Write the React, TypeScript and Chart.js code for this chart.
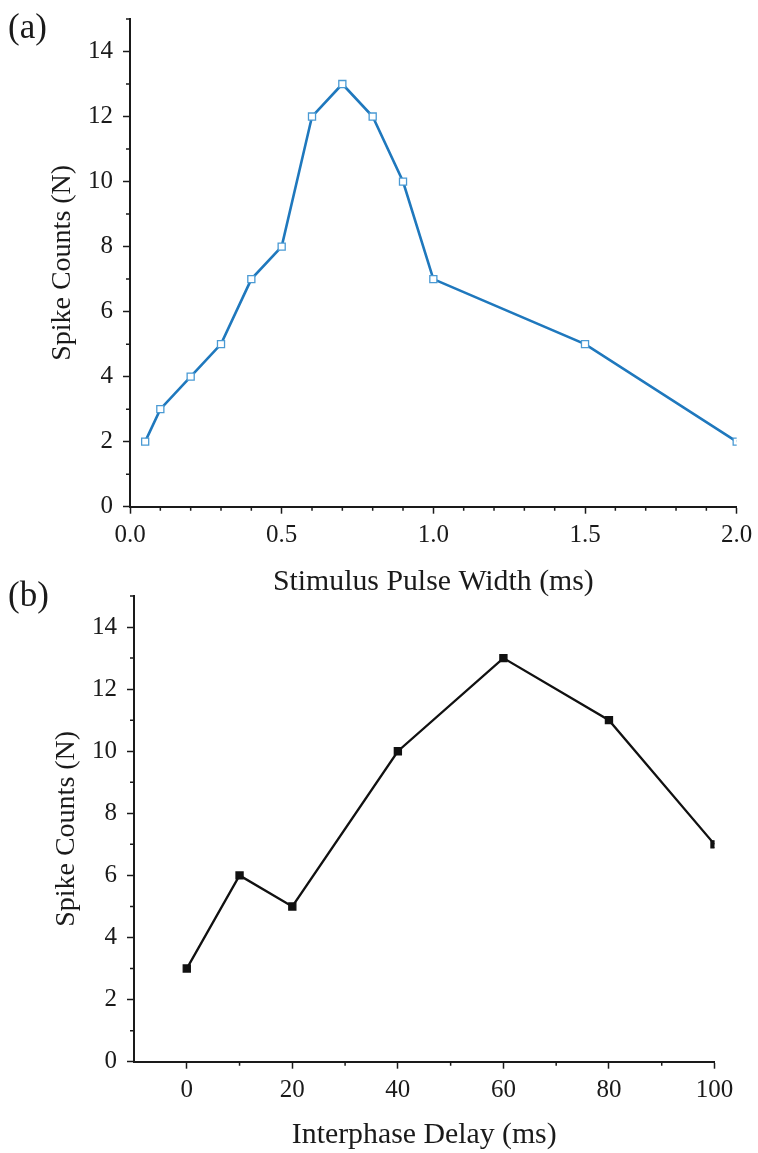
import React, { useEffect, useRef } from "react";
import { Chart, registerables } from "chart.js";

Chart.register(...registerables);

// ---- Data: panel (a) ----
const pulseWidthMs = [0.05, 0.1, 0.2, 0.3, 0.4, 0.5, 0.6, 0.7, 0.8, 0.9, 1.0, 1.5, 2.0];
const spikeCountsA = [2, 3, 4, 5, 7, 8, 12, 13, 12, 10, 7, 5, 2];
const xTicksA = [0, 0.5, 1.0, 1.5, 2.0];
const xMinorA = [0.1, 0.2, 0.3, 0.4, 0.6, 0.7, 0.8, 0.9, 1.1, 1.2, 1.3, 1.4, 1.6, 1.7, 1.8, 1.9];

// ---- Data: panel (b) ----
const interphaseDelayMs = [0, 10, 20, 40, 60, 80, 100];
const spikeCountsB = [3, 6, 5, 10, 13, 11, 7];
const xTicksB = [0, 20, 40, 60, 80, 100];
const xMinorB = [10, 30, 50, 70, 90];

// ---- Shared y ticks ----
const yTicks = [0, 2, 4, 6, 8, 10, 12, 14];
const yMinor = [1, 3, 5, 7, 9, 11, 13, 15];

const FONT = "'Liberation Serif', 'Times New Roman', serif";

const minorTicksPlugin = (xMinor: number[], yMinorVals: number[]) => ({
  id: "minorTicks",
  afterDraw(chart: any) {
    const { ctx, chartArea, scales } = chart;
    ctx.save();
    ctx.strokeStyle = "#1a1a1a";
    ctx.lineWidth = 1.5;
    ctx.beginPath();
    xMinor.forEach((v) => {
      const px = scales.x.getPixelForValue(v);
      ctx.moveTo(px, chartArea.bottom);
      ctx.lineTo(px, chartArea.bottom + 4);
    });
    yMinorVals.forEach((v) => {
      const py = scales.y.getPixelForValue(v);
      ctx.moveTo(chartArea.left, py);
      ctx.lineTo(chartArea.left - 4, py);
    });
    ctx.stroke();
    ctx.restore();
  },
});

type PanelCfg = {
  xs: number[];
  ys: number[];
  xMin: number;
  xMax: number;
  xTicks: number[];
  xMinor: number[];
  xFmt: (v: number) => string;
  xTitle: string;
  lineColor: string;
  pointBorder: string;
  pointFill: string;
  pointRadius: number;
  lineWidth: number;
  height: number;
  padding: { left: number; right: number; top: number; bottom: number };
  yWidth: number;
  xHeight: number;
};

function Panel({ cfg, top }: { cfg: PanelCfg; top: number }) {
  const ref = useRef<HTMLCanvasElement | null>(null);
  useEffect(() => {
    if (!ref.current) return;
    const chart = new Chart(ref.current, {
      type: "line",
      data: {
        datasets: [
          {
            data: cfg.xs.map((x, i) => ({ x, y: cfg.ys[i] })),
            borderColor: cfg.lineColor,
            borderWidth: cfg.lineWidth,
            pointStyle: "rect",
            pointRadius: cfg.pointRadius,
            pointBorderWidth: 1.3,
            pointBorderColor: cfg.pointBorder,
            pointBackgroundColor: cfg.pointFill,
            tension: 0,
            fill: false,
          },
        ],
      },
      options: {
        animation: false,
        responsive: false,
        devicePixelRatio: 1,
        layout: { padding: cfg.padding },
        plugins: { legend: { display: false }, tooltip: { enabled: false } },
        scales: {
          x: {
            type: "linear",
            min: cfg.xMin,
            max: cfg.xMax,
            afterBuildTicks: (s: any) => {
              s.ticks = cfg.xTicks.map((v) => ({ value: v }));
            },
            afterFit: (s: any) => {
              s.height = cfg.xHeight;
              s.paddingLeft = 0;
              s.paddingRight = 0;
            },
            grid: {
              drawOnChartArea: false,
              drawTicks: true,
              tickLength: 7,
              tickWidth: 1.5,
              tickColor: "#1a1a1a",
            },
            border: { display: true, color: "#1a1a1a", width: 2 },
            ticks: {
              padding: 6.6,
              maxRotation: 0,
              autoSkip: false,
              color: "#1a1a1a",
              font: { family: FONT, size: 25 },
              callback: (v: any) => cfg.xFmt(Number(v)),
            },
            title: {
              display: true,
              text: cfg.xTitle,
              color: "#1a1a1a",
              font: { family: FONT, size: 29.8 },
              padding: 0,
            },
          },
          y: {
            type: "linear",
            min: 0,
            max: 15,
            afterBuildTicks: (s: any) => {
              s.ticks = yTicks.map((v) => ({ value: v }));
            },
            afterFit: (s: any) => {
              s.width = cfg.yWidth;
              s.paddingTop = 0;
              s.paddingBottom = 0;
            },
            grid: {
              drawOnChartArea: false,
              drawTicks: true,
              tickLength: 7,
              tickWidth: 1.5,
              tickColor: "#1a1a1a",
            },
            border: { display: true, color: "#1a1a1a", width: 2 },
            ticks: {
              padding: 10,
              autoSkip: false,
              color: "#1a1a1a",
              font: { family: FONT, size: 25 },
            },
            title: {
              display: true,
              text: "Spike Counts (N)",
              color: "#1a1a1a",
              font: { family: FONT, size: 28 },
              padding: 0,
            },
          },
        },
      },
      plugins: [minorTicksPlugin(cfg.xMinor, yMinor)],
    } as any);
    return () => chart.destroy();
  }, []);
  return (
    <canvas
      ref={ref}
      width={758}
      height={cfg.height}
      style={{ position: "absolute", left: 0, top, width: 758, height: cfg.height, display: "block" }}
    />
  );
}

const cfgA: PanelCfg = {
  xs: pulseWidthMs,
  ys: spikeCountsA,
  xMin: 0,
  xMax: 2,
  xTicks: xTicksA,
  xMinor: xMinorA,
  xFmt: (v) => v.toFixed(1),
  xTitle: "Stimulus Pulse Width (ms)",
  lineColor: "#1f78bd",
  pointBorder: "#4a9ad4",
  pointFill: "#ffffff",
  pointRadius: 5,
  lineWidth: 2.6,
  height: 600,
  padding: { left: 45.6, right: 21.3, top: 19, bottom: 0 },
  yWidth: 84.4,
  xHeight: 93.3,
};

const cfgB: PanelCfg = {
  xs: interphaseDelayMs,
  ys: spikeCountsB,
  xMin: -10,
  xMax: 100,
  xTicks: xTicksB,
  xMinor: xMinorB,
  xFmt: (v) => String(v),
  xTitle: "Interphase Delay (ms)",
  lineColor: "#111111",
  pointBorder: "#111111",
  pointFill: "#111111",
  pointRadius: 5,
  lineWidth: 2.3,
  height: 593,
  padding: { left: 49.6, right: 43.5, top: 36, bottom: 0 },
  yWidth: 84.4,
  xHeight: 91.3,
};

export default function App() {
  const labelStyle: React.CSSProperties = {
    position: "absolute",
    left: 8,
    fontFamily: FONT,
    fontSize: 35,
    lineHeight: "35px",
    color: "#1a1a1a",
  };
  return (
    <div style={{ position: "fixed", left: 0, top: 0, width: 758, height: 1153, background: "#ffffff", overflow: "hidden" }}>
      <Panel cfg={cfgA} top={0} />
      <Panel cfg={cfgB} top={560} />
      <div style={{ ...labelStyle, top: 9 }}>(a)</div>
      <div style={{ ...labelStyle, top: 577 }}>(b)</div>
    </div>
  );
}
